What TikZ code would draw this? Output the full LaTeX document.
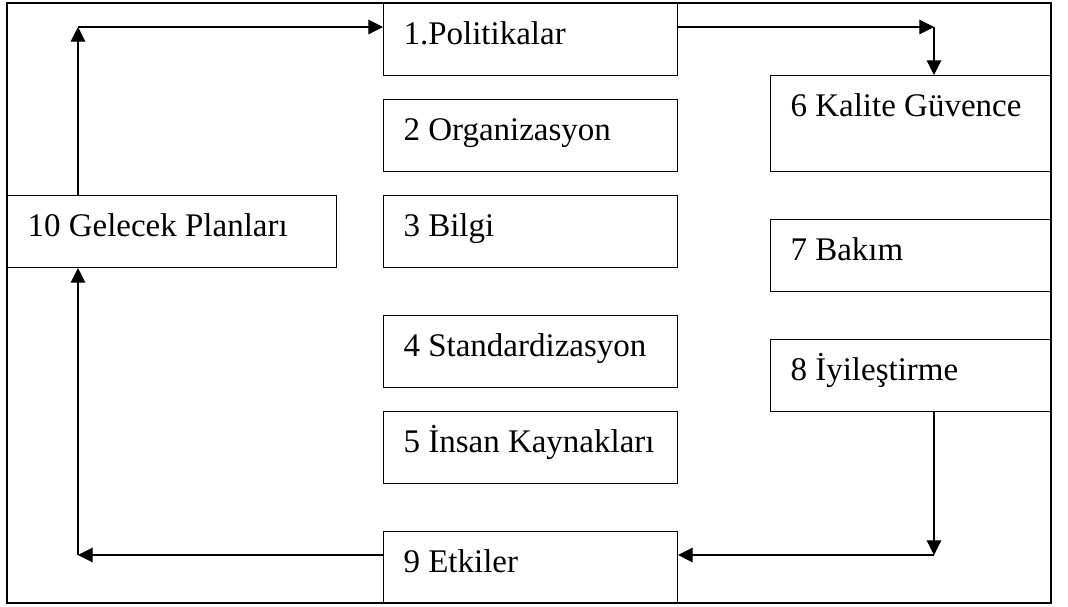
\documentclass[tikz,border=0pt]{standalone}
\usepackage{fontspec}
\setmainfont{Liberation Serif}
\usetikzlibrary{arrows.meta}

\begin{document}
\begin{tikzpicture}[x=0.75pt,y=-0.75pt,line width=0.8pt,
   >={Triangle[length=11pt,width=11pt]},
   font=\fontsize{24.75}{30}\selectfont,
   kutu/.style={draw,rectangle,anchor=north west,align=flush left,inner xsep=15pt,inner ysep=0pt,
     text height=30.75pt,text depth=23.25pt}]
   \useasboundingbox (0,0) rectangle (1068,607);
   \draw (7,3) rectangle (1051,603);
   % middle column
   \node[kutu,text width=190.5pt] (b1) at (383,3) {1.Politikalar};
   \node[kutu,text width=190.5pt] (b2) at (383,99) {2 Organizasyon};
   \node[kutu,text width=190.5pt] (b3) at (383,195) {3 Bilgi};
   \node[kutu,text width=190.5pt] (b4) at (383,315) {4 Standardizasyon};
   \node[kutu,text width=190.5pt] (b5) at (383,411) {5 İnsan Kaynakları};
   \node[kutu,text width=190.5pt] (b9) at (383,531) {9 Etkiler};
   % right column
   \node[kutu,text width=180.75pt,text depth=41.25pt] (b6) at (770,75) {6 Kalite Güvence};
   \node[kutu,text width=180.75pt] (b7) at (770,219) {7 Bakım};
   \node[kutu,text width=180.75pt] (b8) at (770,339) {8 İyileştirme};
   % left
   \node[kutu,text width=216.75pt] (b10) at (7,195) {10 Gelecek Planları};
   % loop
   \coordinate (k1) at (78,27);
   \coordinate (k2) at (934,27);
   \coordinate (k3) at (934,555);
   \coordinate (k4) at (78,555);
   \draw[->] (k1 |- b10.north) -- (k1);
   \draw[->] (k1) -- (k1 -| b1.west);
   \draw[->] (k2 -| b1.east) -- (k2);
   \draw[->] (k2) -- (k2 |- b6.north);
   \draw[->] (k3 |- b8.south) -- (k3);
   \draw[->] (k3) -- (k3 -| b9.east);
   \draw[->] (k4 -| b9.west) -- (k4);
   \draw[->] (k4) -- (k4 |- b10.south);
\end{tikzpicture}
\end{document}
